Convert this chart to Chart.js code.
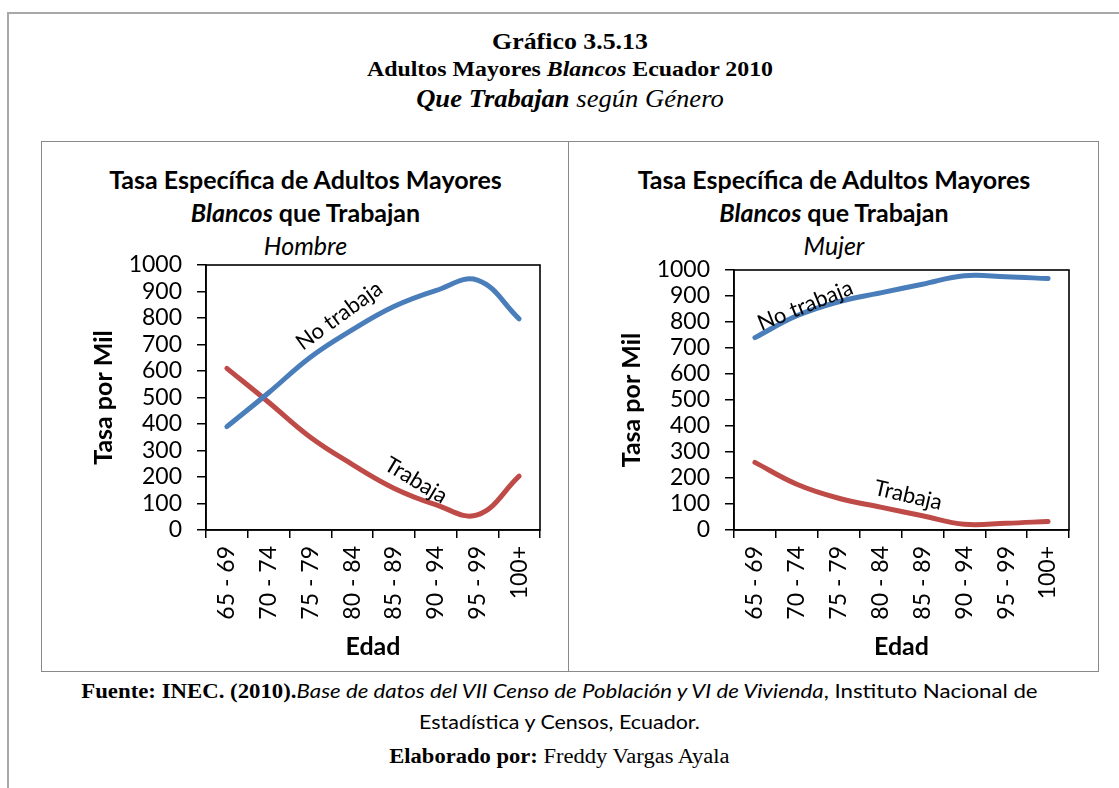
<!DOCTYPE html>
<html><head><meta charset="utf-8">
<script src="https://cdn.jsdelivr.net/npm/chart.js@4.4.1/dist/chart.umd.min.js"></script>
<style>
html,body{margin:0;padding:0;background:#fff;width:1119px;height:788px;overflow:hidden;position:relative;}
#outer{position:absolute;left:7px;top:12px;width:1200px;height:900px;border:2px solid #a8a8a8;box-sizing:border-box;}
#box{position:absolute;left:41px;top:141px;width:1058px;height:531px;border:1.5px solid #8a8a8a;box-sizing:border-box;}
#divider{position:absolute;left:568px;top:141px;width:0;height:531px;border-left:1.5px solid #8a8a8a;}
.h{position:absolute;left:0;width:1140px;text-align:center;white-space:nowrap;font-family:"Liberation Serif","Times New Roman",serif;line-height:1;color:#000;transform:scaleX(1.1);transform-origin:570px 0;}
.ct{position:absolute;text-align:center;white-space:nowrap;font-family:Lato,"Open Sans",sans-serif;font-size:25px;line-height:1.2;color:#000;}
.f{position:absolute;left:0;width:1119px;text-align:center;white-space:nowrap;font-family:Lato,sans-serif;font-size:19.5px;line-height:20px;color:#000;transform:scaleX(1.1);transform-origin:560px 0;}
.serif{font-family:"Liberation Serif","Times New Roman",serif;}
.cw{position:absolute;}
</style></head>
<body>
<div id="outer"></div>
<div id="box"></div>
<div id="divider"></div>

<div class="h" style="top:30px;font-size:23.5px;font-weight:bold;">Gráfico 3.5.13</div>
<div class="h" style="top:59px;font-size:21.7px;font-weight:bold;">Adultos Mayores <i>Blancos</i> Ecuador 2010</div>
<div class="h" style="top:87px;font-size:24.2px;font-style:italic;"><b>Que Trabajan</b> según Género</div>

<div class="ct" style="left:42px;width:527px;top:164.3px;font-weight:bold;">Tasa Específica de Adultos Mayores</div>
<div class="ct" style="left:42px;width:527px;top:197.3px;font-weight:bold;"><i>Blancos</i> que Trabajan</div>
<div class="ct" style="left:42px;width:527px;top:230.3px;font-style:italic;">Hombre</div>

<div class="ct" style="left:570px;width:528px;top:164.3px;font-weight:bold;">Tasa Específica de Adultos Mayores</div>
<div class="ct" style="left:570px;width:528px;top:197.3px;font-weight:bold;"><i>Blancos</i> que Trabajan</div>
<div class="ct" style="left:570px;width:528px;top:230.3px;font-style:italic;">Mujer</div>

<div class="cw" style="left:42px;top:142px;width:527px;height:528px;"><canvas id="c1"></canvas></div>
<div class="cw" style="left:570px;top:142px;width:528px;height:528px;"><canvas id="c2"></canvas></div>

<div class="f" style="top:681px;transform:scaleX(1.14);"><b class="serif" style="font-size:20px;">Fuente: INEC. (2010).</b><i>Base de datos del VII Censo de Población y VI de Vivienda</i>, Instituto Nacional de</div>
<div class="f" style="top:712px;">Estadística y Censos, Ecuador.</div>
<div class="f serif" style="top:746px;font-size:20.5px;"><b>Elaborado por:</b> Freddy Vargas Ayala</div>

<script>
const categories = ['65 - 69','70 - 74','75 - 79','80 - 84','85 - 89','90 - 94','95 - 99','100+'];
const hombreNoTrabaja = [390, 518, 652, 755, 843, 903, 943, 797];
const hombreTrabaja   = [610, 482, 350, 248, 158, 96, 57, 203];
const mujerNoTrabaja  = [740, 824, 878, 912, 945, 978, 974, 967];
const mujerTrabaja    = [260, 176, 122, 88, 55, 22, 26, 33];
const yTickValues = [0,100,200,300,400,500,600,700,800,900,1000];
const seriesNames = ['No trabaja','Trabaja'];
const yTitle = 'Tasa por Mil';
const xTitle = 'Edad';

const BLUE = '#4A7EBB', RED = '#BE4B48';
const FONT = 'Lato';

const framePlugin = {
  id:'frame',
  afterDatasetsDraw(chart){
    const {ctx, chartArea:a} = chart;
    ctx.save();
    ctx.strokeStyle='#000'; ctx.lineWidth=1.6;
    ctx.strokeRect(a.left, a.top, a.right-a.left, a.bottom-a.top);
    ctx.restore();
  }
};
const labelPlugin = {
  id:'lineLabels',
  afterDatasetsDraw(chart, args, opts){
    const {ctx, scales:{x,y}} = chart;
    (opts.items||[]).forEach(it=>{
      const px = x.getPixelForValue(it.at), py = y.getPixelForValue(it.value);
      ctx.save();
      ctx.translate(px,py);
      ctx.rotate(it.angle*Math.PI/180);
      ctx.font = '22px ' + FONT;
      ctx.fillStyle='#000';
      ctx.textAlign='center'; ctx.textBaseline='middle';
      ctx.fillText(it.text,0,0);
      ctx.restore();
    });
  }
};

function makeChart(id, noTrab, trab, plotTopPad, labels){
  return new Chart(document.getElementById(id), {
    type:'line',
    data:{labels:categories, datasets:[
      {label:seriesNames[0], data:noTrab, borderColor:BLUE, borderWidth:5, pointRadius:0, tension:0.4, borderCapStyle:'round', fill:false},
      {label:seriesNames[1], data:trab, borderColor:RED, borderWidth:5, pointRadius:0, tension:0.4, borderCapStyle:'round', fill:false}
    ]},
    options:{
      responsive:true, maintainAspectRatio:false, animation:false,
      layout:{padding:{top:plotTopPad, right:29, left:0, bottom:0}},
      plugins:{legend:{display:false}, tooltip:{enabled:false}, title:{display:false},
        lineLabels:{items:labels}},
      scales:{
        x:{type:'category', offset:true,
          grid:{display:true, drawOnChartArea:false, drawTicks:true, tickLength:8, color:'#000', lineWidth:1.5, offset:true},
          border:{display:true, color:'#000', width:1.6},
          ticks:{minRotation:90, maxRotation:90, autoSkip:false, padding:8, color:'#000', font:{family:FONT, size:23}},
          title:{display:true, text:xTitle, color:'#000', font:{family:FONT, size:25, weight:'bold'}, padding:{top:0,bottom:8}},
          afterFit(s){ s.height = 140; }
        },
        y:{min:0, max:1000,
          afterBuildTicks(s){ s.ticks = yTickValues.map(v=>({value:v})); },
          grid:{display:true, drawOnChartArea:false, drawTicks:true, tickLength:9, color:'#000', lineWidth:1.5},
          border:{display:true, color:'#000', width:1.6},
          ticks:{autoSkip:false, padding:15, color:'#000', font:{family:FONT, size:23}, callback:(v)=>String(v)},
          title:{display:true, text:yTitle, color:'#000', font:{family:FONT, size:25, weight:'bold'}, padding:{top:47,bottom:0}},
          afterFit(s){ s.width = 164; }
        }
      }
    },
    plugins:[framePlugin, labelPlugin]
  });
}

makeChart('c1', hombreNoTrabaja, hombreTrabaja, 123, [
  {text:'No trabaja', at:2.69, value:809, angle:-36},
  {text:'Trabaja', at:4.53, value:187, angle:31}
]);
makeChart('c2', mujerNoTrabaja, mujerTrabaja, 128, [
  {text:'No trabaja', at:1.2, value:863, angle:-22},
  {text:'Trabaja', at:3.66, value:133, angle:13}
]);
</script>
</body></html>
